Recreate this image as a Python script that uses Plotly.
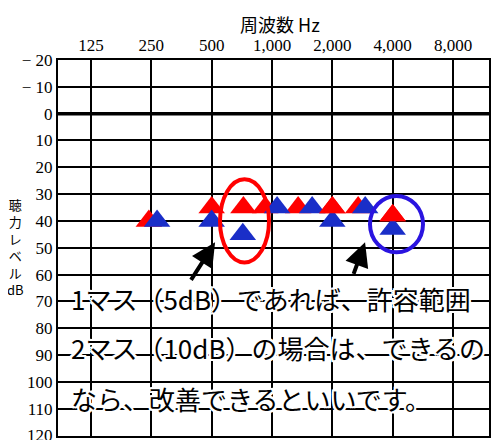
import numpy as np
import plotly.graph_objects as go

OCTAVE_HZ = [125, 250, 500, 1000, 2000, 4000, 8000]
OCTAVE_LABELS = ["125", "250", "500", "1,000", "2,000", "4,000", "8,000"]
DB_TICKS = [-20, -10, 0, 10, 20, 30, 40, 50, 60, 70, 80, 90, 100, 110, 120]
DB_LABELS = ["− 20", "− 10", "0", "10", "20", "30", "40", "50", "60",
             "70", "80", "90", "100", "110", "120"]

# czerwone trójkąty (lekko przesunięte w lewo, gdzie nachodzą na niebieskie)
red_hz = [243, 500, 720, 925, 1350, 2000, 2690, 4000]
red_db = [40, 35, 35, 35, 35, 35, 35, 38]
# niebieskie trójkąty
blue_hz = [267, 500, 715, 1060, 1586, 2000, 2917, 4000]
blue_db = [40, 40, 45, 35, 35, 40, 35, 43]
# punkty czerwone rysowane na wierzchu
red_on_top = [2000, 4000]

TEXT_LINES = [
    "1マス（5dB）であれば、許容範囲",
    "2マス（10dB）の場合は、できるの",
    "なら、改善できるといいです。",
]
Y_TITLE = ["聴", "力", "レ", "ベ", "ル", "dB"]

RED = "#ff0000"
BLUE = "#1a2ec8"
RING = "#2a14e0"

# strona ma 8px marginesu body, więc figura jest przesunięta o 8px
OFF = 8
W, H = 500 - OFF, 440
PX_L, PX_R, PX_T, PX_B = 58, 489, 60, 436   # ramka wykresu na zrzucie
L, T = PX_L - OFF, PX_T - OFF
R, B = W - (PX_R - OFF), H - (PX_B - OFF)
PW, PH = PX_R - PX_L, PX_B - PX_T
X_RANGE = [1.9322, 4.0827]
Y_RANGE = [120.2, -20]


def px_x(p):
    return (p - PX_L) / PW


def px_y(p):
    return 1 - (p - PX_T) / PH


fig = go.Figure()

tri = dict(symbol="triangle-up", size=23, line_width=0)
fig.add_trace(go.Scatter(x=red_hz, y=red_db, mode="markers",
                         marker=dict(tri, color=RED), hoverinfo="skip"))
fig.add_trace(go.Scatter(x=blue_hz, y=blue_db, mode="markers",
                         marker=dict(tri, color=BLUE), hoverinfo="skip"))
top_idx = [i for i, f in enumerate(red_hz) if f in red_on_top]
fig.add_trace(go.Scatter(x=[red_hz[i] for i in top_idx],
                         y=[red_db[i] for i in top_idx], mode="markers",
                         marker=dict(tri, color=RED), hoverinfo="skip"))

# linia 0 dB pogrubiona
fig.add_shape(type="line", xref="paper", x0=0, x1=1, yref="y", y0=0, y1=0,
              line=dict(color="black", width=3.5))

# obwódki
fig.add_shape(type="circle", xref="paper", yref="y",
              x0=px_x(220), x1=px_x(269), y0=24.5, y1=55.5,
              line=dict(color=RED, width=4))
fig.add_shape(type="circle", xref="paper", yref="y",
              x0=px_x(370), x1=px_x(423), y0=30.7, y1=51.7,
              line=dict(color=RING, width=4))

# strzałki
for hz, db, ax, ay in [(520, 48, -25, 39), (2913, 48, -12, 33)]:
    fig.add_annotation(x=np.log10(hz), y=db, xref="x", yref="y", text="",
                       showarrow=True, arrowhead=2, arrowsize=1.2,
                       arrowwidth=4, arrowcolor="black", ax=ax, ay=ay,
                       standoff=0)

# tekst z białą obwódką
halo = ", ".join(f"{dx}px {dy}px 0 white" for dx in (-2, 0, 2)
                 for dy in (-2, 0, 2) if dx or dy)
for txt, yv in zip(TEXT_LINES, [68.8, 87.2, 106.3]):
    fig.add_annotation(x=px_x(69), xref="paper", y=yv, yref="y",
                       text=txt, showarrow=False, xanchor="left",
                       yanchor="middle",
                       font=dict(family="Noto Sans CJK JP", size=26,
                                 color="black", shadow=halo))

# tytuł osi Y pionowo
fig.add_annotation(x=px_x(15), xref="paper", y=px_y(247), yref="paper",
                   yanchor="middle", xanchor="center",
                   text="<br>".join(Y_TITLE), showarrow=False,
                   font=dict(family="Noto Sans CJK JP", size=13,
                             color="black"))

# tytuł osi X
fig.add_annotation(x=px_x(280), xref="paper", y=px_y(24), yref="paper",
                   yanchor="middle", text="周波数 Hz", showarrow=False,
                   font=dict(family="Noto Sans CJK JP", size=18,
                             color="black"))

fig.update_layout(
    width=W, height=H, template="none",
    margin=dict(l=L, r=R, t=T, b=B),
    paper_bgcolor="white", plot_bgcolor="white",
    showlegend=False,
    xaxis=dict(type="log", range=X_RANGE, side="top",
               tickvals=OCTAVE_HZ, ticktext=OCTAVE_LABELS,
               showgrid=True, gridcolor="black", gridwidth=1.5,
               zeroline=False, showline=True, mirror=True,
               linecolor="black", linewidth=2, ticks="",
               tickfont=dict(family="Liberation Serif", size=17,
                             color="black"),
               automargin=False, fixedrange=True),
    yaxis=dict(range=Y_RANGE, tickvals=DB_TICKS, ticktext=DB_LABELS,
               showgrid=True, gridcolor="black", gridwidth=1.5,
               zeroline=False, showline=True, mirror=True,
               linecolor="black", linewidth=2, ticks="",
               tickfont=dict(family="Liberation Serif", size=17,
                             color="black"),
               automargin=False, fixedrange=True),
)

fig.write_html("out.html")
